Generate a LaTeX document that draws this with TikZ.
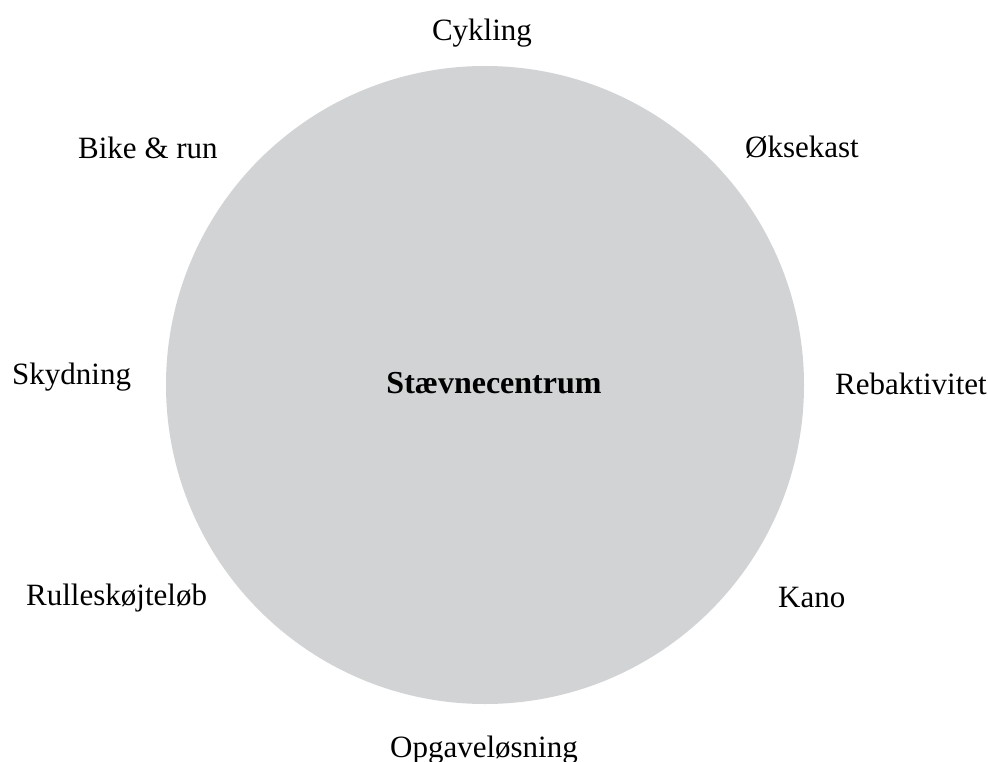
\documentclass[tikz,border=0pt]{standalone}
\usepackage{fontspec}
\setmainfont{Liberation Serif}
\definecolor{disc}{RGB}{209,211,212}
\begin{document}
\begin{tikzpicture}[x=1pt,y=-1pt,
  lbl/.style={anchor=base west,inner sep=0pt,font=\fontsize{31}{36}\selectfont}]
\useasboundingbox (0,0) rectangle (988,762);
\fill[disc] (485,385) circle[radius=319];
\node[lbl,font=\fontsize{32}{36}\selectfont\bfseries,anchor=base] (c) at (494,393) {Stævnecentrum};
\node[lbl,anchor=base] (cyk) at (482,41) {Cykling};
\node[lbl] (oks) at (745,158) {Øksekast};
\node[lbl] (reb) at (835,394) {Rebaktivitet};
\node[lbl] (kan) at (778,607) {Kano};
\node[lbl,anchor=base] (opg) at (484,757) {Opgaveløsning};
\node[lbl] (rul) at (26,605) {Rulleskøjteløb};
\node[lbl] (sky) at (12,384) {Skydning};
\node[lbl] (bik) at (78,159) {Bike \& run};
\end{tikzpicture}
\end{document}
